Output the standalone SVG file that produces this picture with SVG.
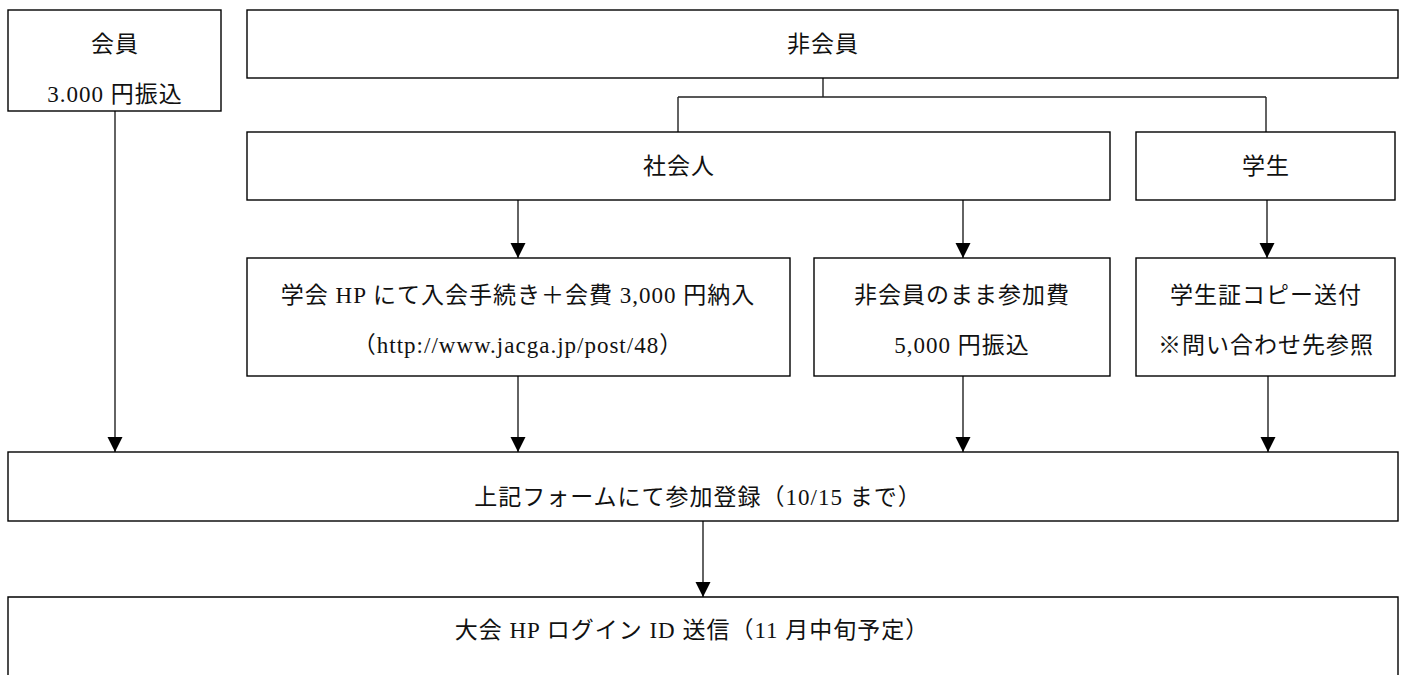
<svg xmlns="http://www.w3.org/2000/svg" width="1401" height="675" viewBox="0 0 1401 675">
<style>
.box{fill:#fff;stroke:#000;stroke-width:1.4}
.t{font-family:"Liberation Serif","Noto Sans CJK JP",serif;font-size:23px;letter-spacing:1px;fill:#111;text-anchor:middle;dominant-baseline:central}
.c{fill:none;stroke:#222;stroke-width:1.4}
.a{marker-end:url(#ah)}
</style>
<defs>
<marker id="ah" markerUnits="userSpaceOnUse" markerWidth="16" markerHeight="16" viewBox="0 0 16 16" refX="15" refY="8" orient="auto">
<path d="M0,0.5 L15,8 L0,15.5 Z" fill="#000"/>
</marker>
</defs>
<rect width="1401" height="675" fill="#fff"/>
<g id="connectors">
<path class="c a" d="M115,111 V452"/>
<path class="c" d="M823,78 V97 M678,97 H1266 M678,97 V132 M1266,97 V132"/>
<path class="c a" d="M518,200 V258"/>
<path class="c a" d="M963,200 V258"/>
<path class="c a" d="M1267,200 V258"/>
<path class="c a" d="M518,376 V452"/>
<path class="c a" d="M963,376 V452"/>
<path class="c a" d="M1268,376 V452"/>
<path class="c a" d="M703,521 V597"/>
</g>
<g id="kaiin">
<rect class="box" x="8" y="10" width="213" height="101"/>
<text class="t" x="115" y="44">会員</text>
<text class="t" x="115" y="94">3.000 円振込</text>
</g>
<g id="hikaiin">
<rect class="box" x="247" y="10" width="1151" height="68"/>
<text class="t" x="823" y="44">非会員</text>
</g>
<g id="shakaijin">
<rect class="box" x="247" y="132" width="863" height="68"/>
<text class="t" x="679" y="166">社会人</text>
</g>
<g id="gakusei">
<rect class="box" x="1136" y="132" width="259" height="68"/>
<text class="t" x="1266" y="166">学生</text>
</g>
<g id="nyukai">
<rect class="box" x="247" y="258" width="543" height="118"/>
<text class="t" x="518" y="295">学会 HP にて入会手続き＋会費 3,000 円納入</text>
<text class="t" x="518" y="345">（http://www.jacga.jp/post/48）</text>
</g>
<g id="hikaiin-sanka">
<rect class="box" x="814" y="258" width="296" height="118"/>
<text class="t" x="962" y="295">非会員のまま参加費</text>
<text class="t" x="962" y="345">5,000 円振込</text>
</g>
<g id="gakuseisho">
<rect class="box" x="1136" y="258" width="259" height="118"/>
<text class="t" x="1266" y="295">学生証コピー送付</text>
<text class="t" x="1266" y="345">※問い合わせ先参照</text>
</g>
<g id="toroku">
<rect class="box" x="8" y="452" width="1390" height="69"/>
<text class="t" x="698" y="497">上記フォームにて参加登録（10/15 まで）</text>
</g>
<g id="login">
<path class="box" d="M8,690 V597 H1398 V690"/>
<text class="t" x="692" y="630">大会 HP ログイン ID 送信（11 月中旬予定）</text>
</g>
</svg>
